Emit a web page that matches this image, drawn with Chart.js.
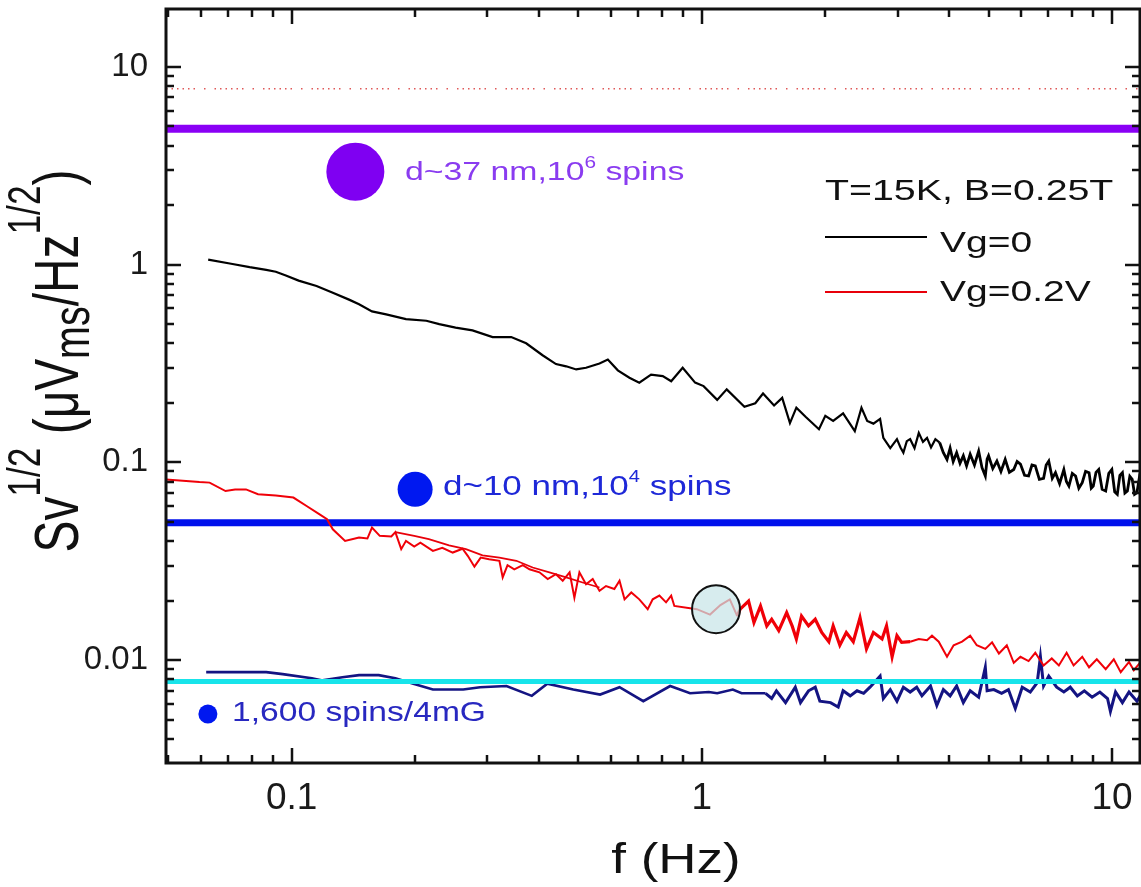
<!DOCTYPE html>
<html>
<head>
<meta charset="utf-8">
<script src="https://cdn.jsdelivr.net/npm/chart.js@4.4.1/dist/chart.umd.min.js"></script>
<style>
  html, body { margin: 0; padding: 0; background: #fff; }
  canvas { display: block; }
</style>
</head>
<body>
<canvas id="chart" width="1141" height="887"></canvas>
<script>
// axis limits and tick labels
const xMin = 0.0494, xMax = 11.7;
const yMin = 0.00302, yMax = 19.6;
const xTicks = [0.1, 1, 10];
const xTickLabels = ['0.1', '1', '10'];
const yTicks = [0.01, 0.1, 1, 10];
const yTickLabels = ['0.01', '0.1', '1', '10'];

// Vg=0 (black)
const blackF = [0.0626,0.0712,0.0790,0.0867,0.0915,0.0968,0.104,0.115,0.126,0.138,0.146,0.157,0.170,0.190,0.213,0.229,0.251,0.276,0.309,0.343,0.373,0.409,0.441,0.467,0.494,0.522,0.563,0.590,0.624,0.666,0.704,0.752,0.803,0.842,0.898,0.963,1.01,1.09,1.15,1.27,1.35,1.41,1.50,1.57,1.64,1.70,1.79,1.93,2.00,2.09,2.21,2.36,2.45,2.53,2.62,2.72,2.77,2.88,2.99,3.05,3.10,3.16,3.22,3.30,3.38,3.46,3.54,3.62,3.71,3.80,3.88,3.96,4.03,4.10,4.18,4.26,4.34,4.42,4.51,4.62,4.73,4.82,4.91,4.96,5.00,5.12,5.24,5.36,5.49,5.62,5.76,5.87,5.98,6.12,6.26,6.38,6.50,6.65,6.81,6.91,7.01,7.15,7.28,7.45,7.63,7.74,7.85,8.0,8.15,8.3,8.46,8.62,8.79,8.9,9.0,9.14,9.28,9.46,9.65,9.82,9.99,10.15,10.3,10.45,10.6,10.75,10.9,11.05,11.2,11.35,11.5,11.65,11.8];
const blackV = [1.06,1.01,0.97,0.94,0.92,0.88,0.83,0.78,0.72,0.665,0.63,0.58,0.56,0.53,0.52,0.50,0.48,0.465,0.43,0.43,0.40,0.348,0.314,0.306,0.295,0.301,0.316,0.331,0.292,0.268,0.253,0.278,0.273,0.257,0.301,0.253,0.243,0.207,0.234,0.191,0.199,0.223,0.194,0.212,0.158,0.189,0.170,0.147,0.172,0.162,0.177,0.144,0.189,0.162,0.157,0.166,0.133,0.118,0.131,0.119,0.112,0.128,0.131,0.118,0.141,0.127,0.133,0.119,0.131,0.126,0.112,0.1035,0.118,0.101,0.112,0.099,0.108,0.096,0.110,0.097,0.114,0.094,0.0853,0.104,0.108,0.093,0.1015,0.090,0.1035,0.089,0.092,0.101,0.098,0.086,0.0853,0.097,0.096,0.082,0.083,0.097,0.1015,0.083,0.0887,0.078,0.092,0.080,0.0759,0.088,0.0853,0.074,0.079,0.090,0.0887,0.074,0.0759,0.089,0.092,0.073,0.0716,0.088,0.092,0.071,0.0689,0.086,0.0887,0.070,0.0716,0.085,0.082,0.069,0.0703,0.083,0.0774];

// Vg=0.2V (red)
const redF = [0.0494,0.0596,0.0631,0.0690,0.0728,0.0774,0.0828,0.0915,0.101,0.109,0.117,0.122,0.126,0.135,0.146,0.153,0.157,0.164,0.175,0.179,0.185,0.190,0.199,0.206,0.221,0.233,0.247,0.261,0.269,0.279,0.289,0.303,0.321,0.327,0.336,0.349,0.366,0.380,0.402,0.421,0.441,0.458,0.476,0.489,0.503,0.522,0.542,0.563,0.584,0.612,0.630,0.648,0.673,0.704,0.738,0.759,0.788,0.818,0.842,0.857,0.972,1.047,1.11,1.17,1.22,1.24,1.30,1.34,1.39,1.44,1.48,1.54,1.61,1.66,1.70,1.75,1.82,1.89,1.96,2.04,2.09,2.17,2.25,2.34,2.43,2.52,2.62,2.75,2.82,2.91,2.99,3.07,3.22,3.38,3.54,3.64,3.78,3.96,4.11,4.31,4.51,4.68,4.91,5.10,5.30,5.54,5.76,5.98,6.26,6.50,6.81,7.13,7.42,7.75,8.06,8.46,8.79,9.18,9.65,10.1,10.5,11.0,11.3,11.8];
const redV = [0.082,0.0795,0.079,0.0716,0.073,0.073,0.069,0.068,0.0664,0.060,0.0546,0.0516,0.0459,0.0401,0.0417,0.0412,0.0468,0.0425,0.0422,0.0444,0.0364,0.0401,0.0375,0.0393,0.0357,0.0370,0.0350,0.0366,0.0336,0.0297,0.0330,0.0324,0.0318,0.0262,0.0302,0.0288,0.0302,0.0288,0.0278,0.0257,0.0272,0.0252,0.0278,0.0207,0.0278,0.0242,0.0257,0.0224,0.0237,0.0229,0.0252,0.0203,0.0220,0.0203,0.0181,0.0203,0.0212,0.0196,0.0212,0.0188,0.0181,0.0170,0.0190,0.0203,0.0167,0.0181,0.0199,0.0155,0.0188,0.0149,0.0161,0.0141,0.0174,0.0149,0.0128,0.0167,0.0149,0.0161,0.0138,0.0124,0.0149,0.0119,0.0138,0.0124,0.0164,0.0114,0.0138,0.0128,0.0149,0.0104,0.0133,0.0123,0.0124,0.0128,0.0126,0.0133,0.0124,0.0104,0.0119,0.0124,0.0133,0.0119,0.0114,0.0123,0.0108,0.0119,0.0097,0.0104,0.0099,0.0109,0.0094,0.0102,0.0094,0.0109,0.0094,0.0104,0.0092,0.0101,0.0090,0.0101,0.0087,0.0098,0.0089,0.0099];
// second, smoother red trace overlapping 0.18 - 0.56 Hz
const red2F = [0.179,0.199,0.216,0.242,0.266,0.292,0.321,0.353,0.387,0.425,0.467,0.512,0.563];
const red2V = [0.0444,0.0425,0.0409,0.0381,0.0364,0.0339,0.0330,0.0318,0.0294,0.0278,0.0262,0.0247,0.0233];

// background trace (navy)
const navyF = [0.0619,0.0867,0.0951,0.112,0.119,0.133,0.146,0.163,0.179,0.198,0.221,0.262,0.288,0.334,0.385,0.42,0.486,0.565,0.630,0.72,0.837,0.936,1.04,1.09,1.19,1.25,1.43,1.48,1.52,1.60,1.69,1.74,1.82,1.89,1.94,2.06,2.15,2.21,2.30,2.39,2.48,2.57,2.72,2.77,2.88,2.99,3.10,3.22,3.34,3.44,3.61,3.74,3.88,4.03,4.18,4.34,4.51,4.73,4.91,4.96,5.15,5.38,5.59,5.81,6.04,6.32,6.57,6.69,6.81,7.01,7.33,7.63,7.91,8.23,8.56,8.94,9.34,9.75,9.91,10.2,10.6,11.0,11.5,11.8];
const navyV = [0.0087,0.0087,0.0085,0.0081,0.0079,0.0082,0.0084,0.0084,0.0081,0.0076,0.0071,0.0071,0.0073,0.0074,0.0066,0.0076,0.0071,0.0067,0.0073,0.0062,0.0074,0.0068,0.0069,0.0068,0.0071,0.0068,0.0068,0.0064,0.0070,0.0061,0.0073,0.0061,0.0070,0.0073,0.0062,0.0061,0.0058,0.0070,0.0066,0.0070,0.0068,0.0073,0.0083,0.0064,0.0071,0.0062,0.0073,0.0069,0.0073,0.0066,0.0074,0.0059,0.0071,0.0066,0.0074,0.0061,0.0070,0.0065,0.0092,0.0070,0.0071,0.0068,0.0071,0.0057,0.0073,0.0069,0.0077,0.0104,0.0074,0.0083,0.0073,0.0069,0.0073,0.0066,0.0070,0.0065,0.0069,0.0064,0.0055,0.0069,0.0061,0.0069,0.0062,0.0068];

// horizontal reference levels
const dottedLevel = 7.74;
const purpleLevel = 4.86;
const blueLevel = 0.0495;
const cyanLevel = 0.00779;

// marker dots: d~37 nm, d~10 nm, 1,600 spins
const markerF = [0.143, 0.200, 0.0625];
const markerV = [2.95, 0.0731, 0.00534];
// highlight circle
const ringF = [1.083];
const ringV = [0.0181];

const pts = (fs, vs) => fs.map((f, i) => ({ x: f, y: vs[i] }));
const hline = v => [{ x: xMin, y: v }, { x: xMax, y: v }];

const FONT = "'Liberation Sans', Arial, sans-serif";

function lineSet(data, color, width, order, extra) {
  return Object.assign({
    data: data, showLine: true, borderColor: color, borderWidth: width,
    pointRadius: 0, tension: 0, fill: false, order: order
  }, extra || {});
}

// thicker strokes where the measured trace is densest
const widthFrom = (f0, f1, thin, thick) => ({
  borderWidth: c => {
    const x = c.p0.parsed.x;
    return (x >= f0 && x <= f1) ? thick : thin;
  }
});

// draw text squeezed/stretched horizontally
function sText(ctx, str, x, y, size, sx, color) {
  ctx.save();
  ctx.font = size + 'px ' + FONT;
  ctx.fillStyle = color;
  ctx.textBaseline = 'alphabetic';
  ctx.translate(x, y);
  ctx.scale(sx, 1);
  ctx.fillText(str, 0, 0);
  const w = ctx.measureText(str).width * sx;
  ctx.restore();
  return w;
}

// run of text parts with super/subscripts, starting at x
function richText(ctx, parts, x, y, sx, color) {
  let cx = x;
  parts.forEach(p => {
    cx += sText(ctx, p.t, cx, y + (p.dy || 0), p.s, sx, color);
  });
}

const decorPlugin = {
  id: 'decor',
  afterDraw(chart) {
    const ctx = chart.ctx;
    const a = chart.chartArea;
    const xs = chart.scales.x, ys = chart.scales.y;

    // frame
    ctx.save();
    ctx.strokeStyle = '#111';
    ctx.lineWidth = 3;
    ctx.strokeRect(a.left, a.top, a.right - a.left, a.bottom - a.top);

    // inward ticks on all four sides
    ctx.lineWidth = 2.5;
    ctx.beginPath();
    for (let d = -3; d <= 1; d++) {
      for (let k = 1; k <= 9; k++) {
        const v = k * Math.pow(10, d);
        const len = k === 1 ? 15 : 8;
        if (v >= xMin && v <= xMax) {
          const px = Math.round(xs.getPixelForValue(v));
          ctx.moveTo(px, a.bottom); ctx.lineTo(px, a.bottom - len);
          ctx.moveTo(px, a.top); ctx.lineTo(px, a.top + len);
        }
        if (v >= yMin && v <= yMax) {
          const py = Math.round(ys.getPixelForValue(v));
          ctx.moveTo(a.left, py); ctx.lineTo(a.left + len, py);
          ctx.moveTo(a.right, py); ctx.lineTo(a.right - len, py);
        }
      }
    }
    ctx.stroke();
    ctx.restore();

    // x axis title
    ctx.save();
    ctx.font = '42px ' + FONT;
    const xt = 'f (Hz)';
    const xw = ctx.measureText(xt).width * 1.26;
    ctx.restore();
    sText(ctx, xt, 676 - xw / 2, 873, 42, 1.26, '#111');

    // y axis title, rotated, with super/subscripts
    const F = 46, S = 34, SB = 38;
    const yParts = [
      { t: 'Sv', s: F }, { t: '1/2', s: S, dy: -28 }, { t: ' (\u03BCV', s: F },
      { t: 'ms', s: SB, dy: 8 }, { t: '/Hz', s: F }, { t: '1/2', s: S, dy: -28 }, { t: ')', s: F }
    ];
    let tw = 0;
    ctx.save();
    yParts.forEach(p => { ctx.font = p.s + 'px ' + FONT; tw += ctx.measureText(p.t).width; });
    ctx.restore();
    const along = 383 / tw;
    ctx.save();
    ctx.translate(78, 361);
    ctx.rotate(-Math.PI / 2);
    ctx.scale(along, 1.35);
    richText(ctx, yParts, -tw / 2, 0, 1, '#111');
    ctx.restore();

    // annotations next to the dots
    richText(ctx, [{ t: 'd~37 nm,10', s: 26 }, { t: '6', s: 16, dy: -12 }, { t: ' spins', s: 26 }],
      405, 180, 1.3, '#8a3cf0');
    richText(ctx, [{ t: 'd~10 nm,10', s: 28 }, { t: '4', s: 16, dy: -13 }, { t: ' spins', s: 28 }],
      443, 495, 1.25, '#1e28d8');
    sText(ctx, '1,600 spins/4mG', 232, 721, 28, 1.2, '#2828c0');

    // legend block
    sText(ctx, 'T=15K, B=0.25T', 825, 200, 30, 1.31, '#111');
    ctx.save();
    ctx.lineWidth = 2;
    ctx.strokeStyle = '#000';
    ctx.beginPath(); ctx.moveTo(825, 237); ctx.lineTo(927, 237); ctx.stroke();
    ctx.strokeStyle = '#e8000a';
    ctx.beginPath(); ctx.moveTo(825, 292); ctx.lineTo(927, 292); ctx.stroke();
    ctx.restore();
    sText(ctx, 'Vg=0', 940, 252, 30, 1.3, '#111');
    sText(ctx, 'Vg=0.2V', 940, 301, 30, 1.3, '#111');
  }
};

// keep the plot box fixed: no extra room for edge labels
function noPad(s) {
  s.paddingTop = 0; s.paddingBottom = 0; s.paddingLeft = 0; s.paddingRight = 0;
}

const ctx = document.getElementById('chart').getContext('2d');
const chart = new Chart(ctx, {
  type: 'scatter',
  data: {
    datasets: [
      lineSet(hline(dottedLevel), '#e05858', 1.5, 9, { borderDash: [1.5,4,1.5,4,1.5,4,1.5,4,1.5,4,1.5,9,1.5,9] }),
      lineSet(hline(purpleLevel), '#8a00f5', 8, 6),
      lineSet(pts(navyF, navyV), '#141482', 2.6, 8, { segment: widthFrom(1.3, 20, 2.6, 3) }),
      lineSet(hline(cyanLevel), '#18e4ea', 5, 5),
      lineSet(hline(blueLevel), '#0010ec', 7, 4),
      lineSet(pts(blackF, blackV), '#000000', 2.2, 3, { segment: widthFrom(3.8, 20, 2.2, 2.8) }),
      lineSet(pts(red2F, red2V), '#e8000a', 1.8, 2),
      lineSet(pts(redF, redV), '#f00008', 2, 2, { segment: widthFrom(1.2, 3.1, 2, 3.2) }),
      {
        data: pts(markerF, markerV), showLine: false, order: 1,
        pointRadius: [29, 17.5, 9.5], pointBorderWidth: 0,
        pointBackgroundColor: ['#7f00f2', '#0018f0', '#0018f0']
      },
      {
        data: pts(ringF, ringV), showLine: false, order: 0,
        pointRadius: 24, pointBorderWidth: 2, pointBorderColor: '#111',
        pointBackgroundColor: 'rgba(200,228,232,0.72)'
      }
    ]
  },
  options: {
    responsive: false,
    animation: false,
    events: [],
    layout: { autoPadding: false, padding: { top: 9, right: 1, left: 0, bottom: 0 } },
    plugins: { legend: { display: false }, tooltip: { enabled: false } },
    scales: {
      x: {
        type: 'logarithmic', min: xMin, max: xMax,
        grid: { display: false, drawTicks: false }, border: { display: false },
        afterBuildTicks: s => { s.ticks = xTicks.map(v => ({ value: v })); },
        afterFit: s => { s.height = 124; noPad(s); },
        ticks: {
          padding: 14, color: '#1a1a1a', maxRotation: 0, autoSkip: false,
          font: { family: FONT, size: 37 },
          callback: v => xTickLabels[xTicks.indexOf(v)]
        }
      },
      y: {
        type: 'logarithmic', min: yMin, max: yMax,
        grid: { display: false, drawTicks: false }, border: { display: false },
        afterBuildTicks: s => { s.ticks = yTicks.map(v => ({ value: v })); },
        afterFit: s => { s.width = 166; noPad(s); },
        ticks: {
          padding: 18, color: '#1a1a1a', autoSkip: false,
          font: { family: FONT, size: 33 },
          callback: v => yTickLabels[yTicks.indexOf(v)]
        }
      }
    }
  },
  plugins: [decorPlugin]
});
</script>
</body>
</html>
